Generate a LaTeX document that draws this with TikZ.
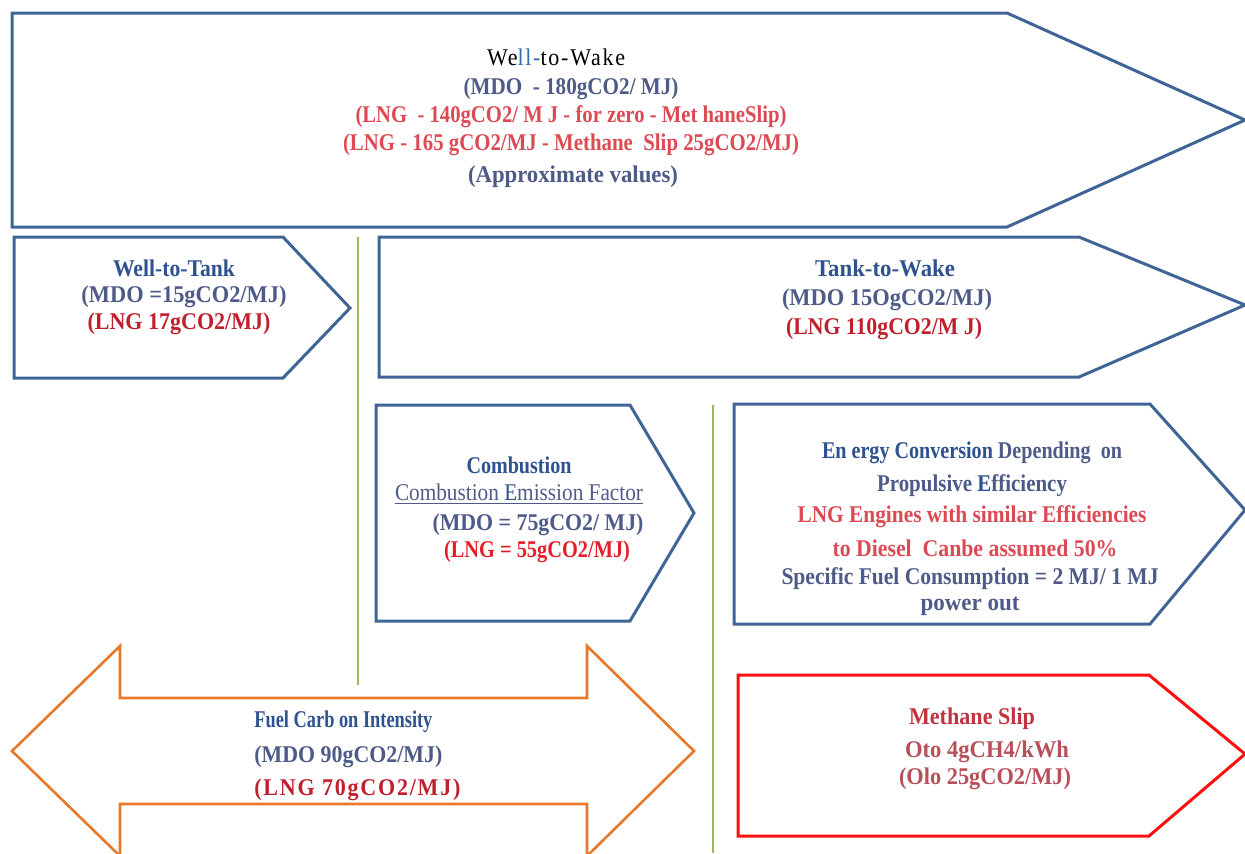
\documentclass[tikz,border=0pt]{standalone}
\usepackage{fontspec}
\setmainfont{Liberation Serif}
\usepackage{graphicx}

% colours
\definecolor{boxblue}{HTML}{3F6596}
\definecolor{headblue}{HTML}{2E5190}
\definecolor{slate}{HTML}{4E5B88}
\definecolor{rose}{HTML}{DC4A54}
\definecolor{deepred}{HTML}{C0202E}
\definecolor{brightred}{HTML}{E3202A}
\definecolor{sliptitle}{HTML}{C0343F}
\definecolor{sliptext}{HTML}{B8505A}
\definecolor{midblue}{HTML}{2E6DB4}
\definecolor{orangeline}{HTML}{E8782A}
\definecolor{greenline}{HTML}{9BBB59}
\definecolor{slipred}{HTML}{FF1010}

% one drawing unit = one pixel of the layout
\newlength\unitpx
\setlength\unitpx{0.5pt}
% set a line at its natural height, stretched to a given width
\newcommand\fitw[2]{\resizebox{#1\unitpx}{\height}{#2}}

\tikzset{
  bluebox/.style={draw=boxblue, line width=1.5pt, fill=white},
  slipbox/.style={draw=slipred, line width=1.5pt, fill=white},
  fuelarrow/.style={draw=orangeline, line width=1.3pt, fill=white},
  divider/.style={draw=greenline, line width=1.2pt},
  txt/.style={inner sep=0pt, font=\fontsize{12}{14}\selectfont\bfseries},
  txtreg/.style={inner sep=0pt, font=\fontsize{12}{14}\selectfont},
}

\begin{document}
\begin{tikzpicture}[x=0.5pt,y=-0.5pt]
\useasboundingbox (0,0) rectangle (1245,853);
\clip (0,0) rectangle (1245,853);

% ---- shapes ----
% Well-to-Wake
\draw[bluebox] (12,13) -- (1007,13) -- (1245,120) -- (1007,227) -- (12,227) -- cycle;
% Well-to-Tank
\draw[bluebox] (14,237) -- (283,237) -- (350,308) -- (283,378) -- (14,378) -- cycle;
% Tank-to-Wake
\draw[bluebox] (379,237) -- (1079,237) -- (1245,305) -- (1079,377) -- (379,377) -- cycle;
% Combustion
\draw[bluebox] (376,405) -- (630,405) -- (694,513) -- (630,621) -- (376,621) -- cycle;
% Energy conversion
\draw[bluebox] (734,404) -- (1150,404) -- (1245,510) -- (1150,624) -- (734,624) -- cycle;
% Methane slip
\draw[slipbox] (738,675) -- (1149,675) -- (1245,754) -- (1149,836) -- (738,836) -- cycle;
% Fuel carbon intensity (double arrow)
\draw[fuelarrow] (12,751) -- (120,646) -- (120,698) -- (587,698) -- (587,646)
  -- (694,751) -- (587,856) -- (587,804) -- (120,804) -- (120,856) -- cycle;

% ---- dividers ----
\draw[divider] (358,237) -- (358,685);
\draw[divider] (713,405) -- (713,853);

% ---- Well-to-Wake ----
\node[txtreg] (wtw) at (556,57) {\fitw{138}{\addfontfeature{LetterSpace=8}We\textcolor{midblue}{ll-}to-Wake}};
\node[txt, text=slate] (wtwmdo) at (571,89) {\fitw{215}{(MDO\ \ - 180gCO2/ MJ)}};
\node[txt, text=rose] (wtwlnga) at (571,117) {\fitw{431}{(LNG\ \ - 140gCO2/ M J - for zero - Met haneSlip)}};
\node[txt, text=rose] (wtwlngb) at (571,145) {\fitw{456}{(LNG - 165 gCO2/MJ - Methane\ \ Slip 25gCO2/MJ)}};
\node[txt, text=slate] (wtwnote) at (573,177) {\fitw{210}{(Approximate values)}};

% ---- Well-to-Tank ----
\node[txt, text=headblue] (wtt) at (174,268) {\fitw{122}{Well-to-Tank}};
\node[txt, text=slate] (wttmdo) at (184,297) {\fitw{205}{(MDO =15gCO2/MJ)}};
\node[txt, text=deepred] (wttlng) at (179,324) {\fitw{183}{(LNG 17gCO2/MJ)}};

% ---- Tank-to-Wake ----
\node[txt, text=headblue] (ttw) at (885,268) {\fitw{140}{Tank-to-Wake}};
\node[txt, text=slate] (ttwmdo) at (887,300) {\fitw{210}{(MDO 15OgCO2/MJ)}};
\node[txt, text=deepred] (ttwlng) at (884,329) {\fitw{196}{(LNG 110gCO2/M J)}};

% ---- Combustion ----
\node[txt, text=headblue] (comb) at (519,465) {\fitw{105}{Combustion}};
\node[txtreg, text=slate] (combef) at (519,494) {\fitw{248}{\underline{Combustion \textcolor{headblue}{E}mission Factor}}};
\node[txt, text=slate] (combmdo) at (538,525) {\fitw{211}{(MDO = 75gCO2/ MJ)}};
\node[txt, text=brightred] (comblng) at (537,552) {\fitw{186}{(LNG = 55gCO2/MJ)}};

% ---- Energy conversion ----
\node[txt, text=slate] (ecl1) at (972,453) {\fitw{300}{\textcolor{headblue}{En ergy Conversion} Depending\ \ on}};
\node[txt, text=slate] (ecl2) at (972,486) {\fitw{190}{Propulsive \textcolor{headblue}{E}fficiency}};
\node[txt, text=rose] (ecl3) at (972,517) {\fitw{349}{LNG Engines with similar Efficiencies}};
\node[txt, text=rose] (ecl4) at (975,548) {\fitw{285}{to Diesel\ \ Canbe assumed 50\%}};
\node[txt, text=slate] (ecl5) at (970,579) {\fitw{377}{Specific Fuel Consumption = 2 MJ/ 1 MJ}};
\node[txt, text=slate] (ecl6) at (970,606) {\fitw{99}{power out}};

% ---- Fuel carbon intensity ----
\node[txt, text=headblue, anchor=west] (fci) at (254,722) {\fitw{178}{Fuel Carb on Intensity}};
\node[txt, text=slate, anchor=west] (fcimdo) at (254,757) {\fitw{188}{(MDO 90gCO2/MJ)}};
\node[txt, text=deepred, anchor=west] (fcilng) at (254,790) {\fitw{206}{\addfontfeature{LetterSpace=8}(LNG 70gCO2/MJ)}};

% ---- Methane slip ----
\node[txt, text=sliptitle] (ms) at (972,719) {\fitw{126}{Methane Slip}};
\node[txt, text=sliptext] (msa) at (987,752) {\fitw{164}{Oto 4gCH4/kWh}};
\node[txt, text=sliptext] (msb) at (985,779) {\fitw{172}{(Olo 25gCO2/MJ)}};
\end{tikzpicture}
\end{document}
